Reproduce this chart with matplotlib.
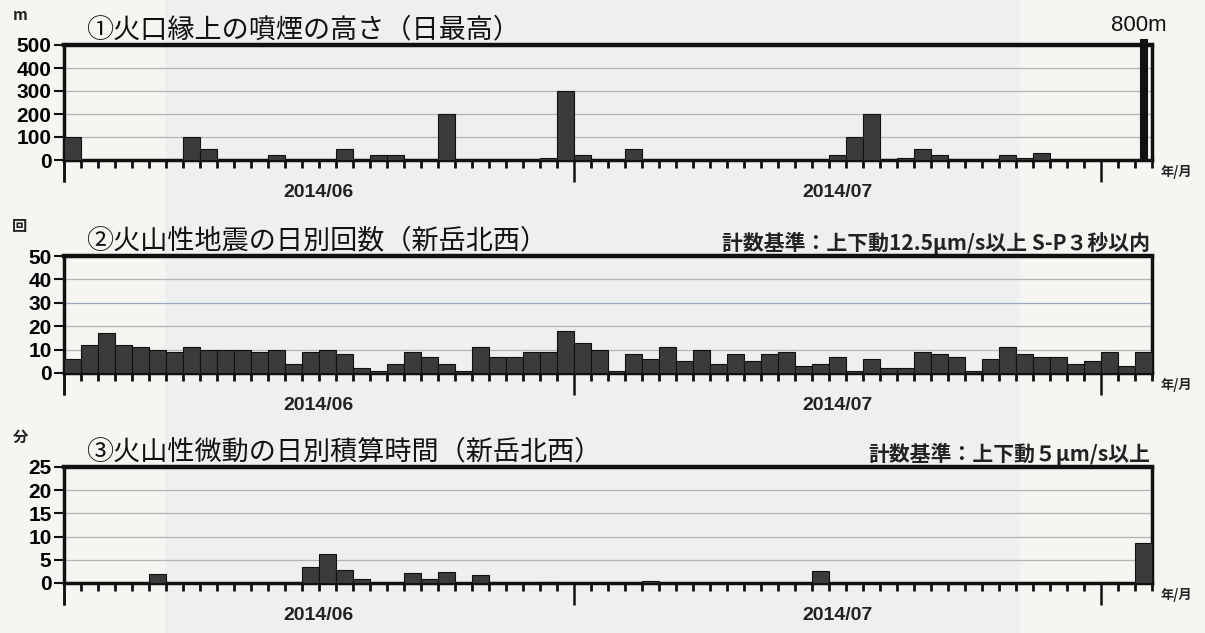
import numpy as np
import pandas as pd
import matplotlib
matplotlib.use("Agg")
import matplotlib.pyplot as plt
from matplotlib.patches import Rectangle
import matplotlib.transforms as mtransforms

# ---------------- data ----------------
dates = pd.date_range("2014-06-01", "2014-08-03", freq="D")
month_labels = ["2014/06", "2014/07"]
month_starts = ["2014-06-01", "2014-07-01", "2014-08-01"]

smoke_m = [100, 0, 0, 0, 0, 0, 0, 100, 50, 0,
           0, 0, 20, 0, 0, 0, 50, 0, 20, 20,
           0, 0, 200, 0, 0, 0, 0, 0, 10, 300,
           20, 0, 0, 50, 0, 0, 0, 0, 0, 0,
           0, 0, 0, 0, 0, 20, 100, 200, 0, 10,
           50, 20, 0, 0, 0, 20, 10, 30, 0, 0,
           0, 0, 0, 800]

quakes = [6, 12, 17, 12, 11, 10, 9, 11, 10, 10,
          10, 9, 10, 4, 9, 10, 8, 2, 1, 4,
          9, 7, 4, 1, 11, 7, 7, 9, 9, 18,
          13, 10, 1, 8, 6, 11, 5, 10, 4, 8,
          5, 8, 9, 3, 4, 7, 1, 6, 2, 2,
          9, 8, 7, 1, 6, 11, 8, 7, 7, 4,
          5, 9, 3, 9]

tremor_min = [0, 0, 0, 0, 0, 2.0, 0, 0, 0, 0,
              0, 0, 0, 0, 3.5, 6.3, 2.7, 0.8, 0, 0,
              2.1, 0.8, 2.3, 0, 1.7, 0, 0, 0, 0.3, 0,
              0, 0, 0, 0, 0.4, 0, 0, 0, 0, 0,
              0, 0, 0, 0, 2.6, 0, 0, 0, 0, 0,
              0, 0, 0, 0, 0, 0, 0, 0, 0, 0,
              0, 0.3, 0, 8.6]

titles = ["①火口縁上の噴煙の高さ（日最高）",
          "②火山性地震の日別回数（新岳北西）",
          "③火山性微動の日別積算時間（新岳北西）"]
units = ["m", "回", "分"]
notes = ["", "計数基準：上下動12.5μm/s以上 S-P３秒以内", "計数基準：上下動５μm/s以上"]
ymaxes = [500, 50, 25]
ysteps = [100, 10, 5]

# ---------------- style ----------------
CJK = ["Noto Sans CJK JP", "DejaVu Sans"]
NUM = ["Liberation Sans Narrow", "Liberation Sans", "DejaVu Sans"]
plt.rcParams["font.family"] = CJK

W, H = 1205, 633
fig = plt.figure(figsize=(W / 100, H / 100), dpi=100)
fig.patch.set_facecolor("#f5f5f2")
# slightly darker scanned band in the middle of the page
fig.patches.append(Rectangle((165 / W, 0), (1020 - 165) / W, 1, transform=fig.transFigure,
                             facecolor="#eef0ef", edgecolor="none", zorder=-5))

x0 = np.arange(len(dates))
first = dates[0]
month_pos = [(pd.Timestamp(m) - first).days for m in month_starts]

panel_px = [(45, 160), (256, 373), (467, 583)]  # (top, bottom) in pixels
left_px, right_px = 64, 1152
series = [smoke_m, quakes, tremor_min]
bar_color = "#3b3b3b"

for i, (top, bot) in enumerate(panel_px):
    ax = fig.add_axes([left_px / W, 1 - bot / H, (right_px - left_px) / W, (bot - top) / H])
    ax.set_facecolor("none")
    vals = np.array(series[i], dtype=float)
    ymax = ymaxes[i]
    inrange = vals <= ymax
    ax.bar(x0[inrange] + 0.5, vals[inrange], width=1.0, color=bar_color,
           edgecolor="#111111", linewidth=0.8, zorder=3)
    over = np.where(~inrange)[0]
    for j in over:
        ax.bar(x0[j] + 0.5, ymax * 1.05, width=0.45, color="#111111",
               edgecolor="#111111", linewidth=0.8, zorder=4, clip_on=False)
        ax.text(x0[j] + 0.2, ymax * 1.08, f"{int(vals[j])}m", ha="center", va="bottom",
                fontsize=16, family=NUM, color="#111111")

    ax.set_xlim(0, len(dates))
    ax.set_ylim(0, ymax)
    yt = np.arange(0, ymax + 1, ysteps[i])
    ax.set_yticks(yt)
    ax.set_yticklabels([str(v) for v in yt], family=NUM, fontsize=15, fontweight="bold")
    for v in yt[1:-1]:
        col = "#9aa6c4" if (i == 1 and v == 30) else "#b4b4b4"
        ax.axhline(v, color=col, lw=0.9, zorder=1)

    ax.set_xticks(month_pos + [0])
    ax.set_xticks(np.arange(0, len(dates) + 1), minor=True)
    ax.tick_params(axis="x", which="major", direction="out", length=16, width=1.8,
                   labelbottom=False, color="#111111")
    ax.tick_params(axis="x", which="minor", direction="out", length=6, width=2,
                   color="#111111")
    ax.tick_params(axis="y", which="major", direction="out", length=7, width=1.5,
                   color="#111111", pad=2)
    for s in ["left", "right", "bottom"]:
        ax.spines[s].set_linewidth(2.5)
        ax.spines[s].set_color("#111111")
    ax.spines["top"].set_linewidth(3.2)
    ax.spines["top"].set_color("#111111")

    trans = mtransforms.blended_transform_factory(ax.transData, ax.transAxes)
    for k, lab in enumerate(month_labels):
        xc = (month_pos[k] + month_pos[k + 1]) / 2
        ax.text(xc, -0.28, lab, transform=trans, ha="center", va="center",
                fontsize=14, family=NUM, fontweight="bold", color="#222222")
    ax.text(1.008, -0.1, "年/月", transform=ax.transAxes, ha="left", va="center",
            fontsize=9.5, fontweight="bold", color="#222222")

    # titles, units, notes
    fig.text(86 / W, 1 - (top - 15) / H, titles[i], ha="left", va="center",
             fontsize=19.5, color="#111111")
    fig.text(20 / W, 1 - (top - 30) / H, units[i], ha="center", va="center",
             fontsize=11, fontweight="bold", color="#222222")
    if notes[i]:
        fig.text(1150 / W, 1 - (top - 13) / H, notes[i], ha="right", va="center",
                 fontsize=15, fontweight="bold", color="#222222")

fig.savefig("out.png", dpi=100, facecolor=fig.get_facecolor())
